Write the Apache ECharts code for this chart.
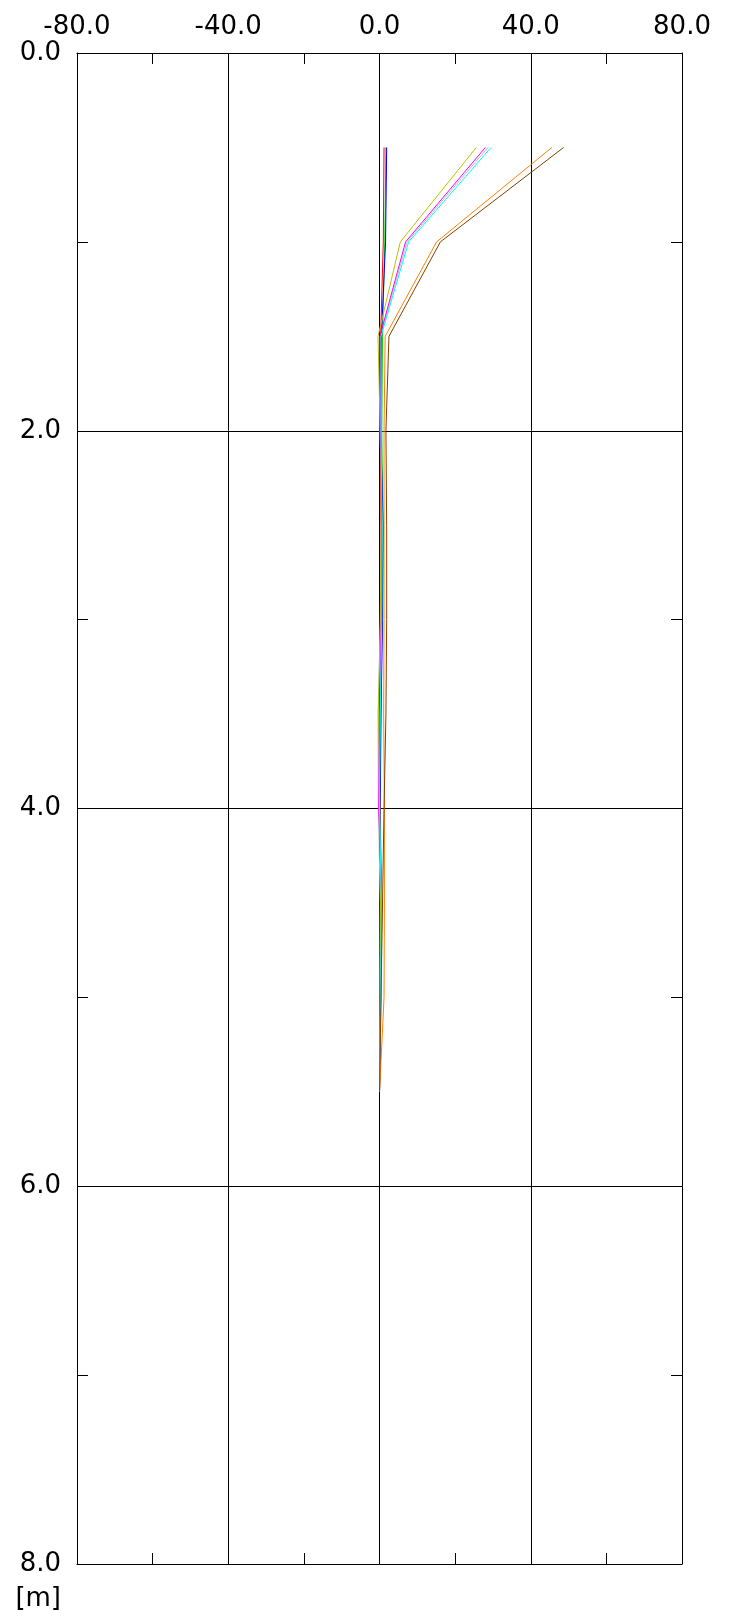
<!DOCTYPE html>
<html>
<head>
<meta charset="utf-8">
<script src="https://cdn.jsdelivr.net/npm/echarts@6/dist/echarts.min.js"></script>
<style>
html,body{margin:0;padding:0;background:#fff;}
#c{width:730px;height:1619px;}
</style>
</head>
<body>
<div id="c"></div>
<script>
// depths [m]
var depths = [0.5, 1.0, 1.5, 2.0, 2.5, 3.0, 3.5, 4.0, 4.5, 5.0, 5.5];
// series values (horizontal quantity) at each depth
var sBlack   = [0.0, 0.0, 0.0, 0.0, 0.0, 0.0, 0.0, 0.0, 0.0, 0.0, 0.0];
var sRed     = [1.2, 1.0, 0.3, 0.2, 0.4, 0.5, 0.3, 0.2, 0.3, 0.2, 0.0];
var sGreen   = [1.7, 1.4, 0.8, 0.6, 0.9, 0.7, 0.3, 0.1, 0.4, 0.3, 0.0];
var sBlue    = [1.9, 1.6, 0.5, 0.3, 1.0, 0.8, 0.4, 0.2, 0.5, 0.2, 0.0];
var sOlive   = [25.6, 5.5, -0.4, 0.2, 0.5, 0.2, -0.3, 0.1, 0.3, 0.2, 0.0];
var sMagenta = [28.0, 6.9, 0.1, 0.3, 0.6, 0.5, 0.0, -0.2, 0.6, 0.4, 0.0];
var sGray    = [28.7, 7.3, 0.2, 0.2, 0.5, 0.3, -0.4, -0.3, 0.2, 0.1, 0.0];
var sCyan    = [29.5, 7.7, 0.4, 0.4, 0.7, 0.6, 0.2, 0.0, 0.5, 0.3, 0.0];
var sOrange  = [45.6, 15.1, 1.5, 1.2, 1.2, 1.2, 1.1, 1.3, 1.3, 1.2, 0.0];
var sBrown   = [48.7, 16.1, 2.5, 1.7, 1.9, 1.9, 1.7, 1.2, 0.8, 0.4, 0.0];

var xTicks = [-80, -40, 0, 40, 80];
var yTicks = [0, 2, 4, 6, 8];
var yUnit = "[m]";

var seriesDefs = [
  {name: "s1", data: sBlack, color: "#000000"},
  {name: "s2", data: sGray, color: "#c0c0c0"},
  {name: "s3", data: sRed, color: "#ff0000"},
  {name: "s4", data: sGreen, color: "#00d000"},
  {name: "s5", data: sBlue, color: "#0000ff"},
  {name: "s6", data: sOlive, color: "#c0c000"},
  {name: "s7", data: sMagenta, color: "#ff00ff"},
  {name: "s8", data: sCyan, color: "#00ffff"},
  {name: "s9", data: sOrange, color: "#ff8000"},
  {name: "s10", data: sBrown, color: "#804000"}
];

var FONT = "DejaVu Sans";
var chart = echarts.init(document.getElementById('c'), null, {renderer: 'canvas'});

function fmt(v){ return Number(v).toFixed(1); }

var lineStyle = {color: '#000', width: 1};
var xBase = {
  type: 'value', min: xTicks[0], max: xTicks[xTicks.length-1], interval: 40,
  axisLine: {show: true, onZero: false, lineStyle: lineStyle},
  axisTick: {show: false, inside: true},
  minorTick: {show: true, splitNumber: 2, length: 11, lineStyle: lineStyle},
  splitLine: {show: false},
  minorSplitLine: {show: false}
};
var yBase = {
  type: 'value', min: yTicks[0], max: yTicks[yTicks.length-1], interval: 2, inverse: true,
  axisLine: {show: true, onZero: false, lineStyle: lineStyle},
  axisTick: {show: false, inside: true},
  minorTick: {show: true, splitNumber: 2, length: 11, lineStyle: lineStyle},
  splitLine: {show: false},
  minorSplitLine: {show: false}
};

var option = {
  animation: false,
  backgroundColor: '#fff',
  grid: {left: 77, top: 53, width: 605, height: 1511, containLabel: false},
  xAxis: [
    Object.assign({}, xBase, {
      position: 'top',
      splitLine: {show: true, lineStyle: lineStyle},
      axisLabel: {show: true, margin: 13, formatter: fmt, color: '#000', fontFamily: FONT, fontSize: 26}
    }),
    Object.assign({}, xBase, {
      position: 'bottom',
      axisLabel: {show: false}
    })
  ],
  yAxis: [
    Object.assign({}, yBase, {
      position: 'left',
      splitLine: {show: true, lineStyle: lineStyle},
      axisLabel: {show: true, margin: 16, formatter: fmt, color: '#000', fontFamily: FONT, fontSize: 26}
    }),
    Object.assign({}, yBase, {
      position: 'right',
      axisLabel: {show: false}
    })
  ],
  graphic: [{
    type: 'text', right: 730 - 61, top: 1586,
    style: {text: yUnit, fill: '#000', font: '26px "DejaVu Sans"', textAlign: 'right'}
  }],
  series: seriesDefs.map(function(s){
    return {
      name: s.name, type: 'line', xAxisIndex: 0, yAxisIndex: 0,
      data: s.data.map(function(v, i){ return [v, depths[i]]; }),
      showSymbol: false, symbol: 'none',
      lineStyle: {color: s.color, width: 1},
      itemStyle: {color: s.color},
      z: 3
    };
  })
};
chart.setOption(option);
</script>
</body>
</html>
